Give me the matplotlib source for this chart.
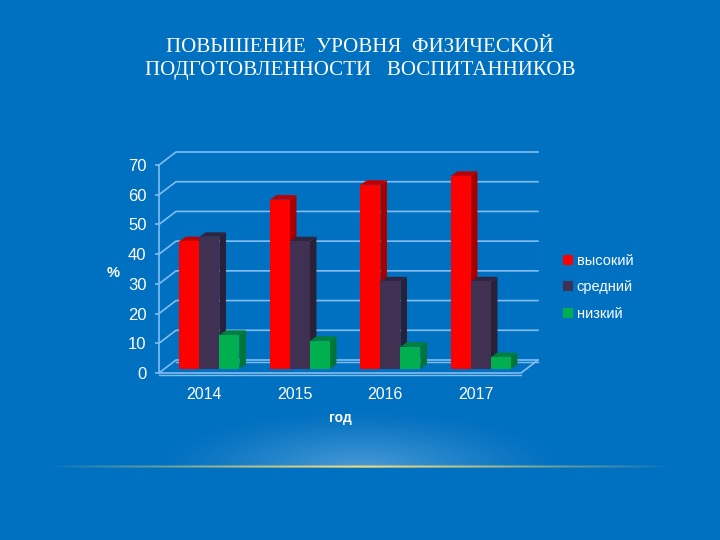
import numpy as np
import matplotlib
matplotlib.use("Agg")
import matplotlib.pyplot as plt
from matplotlib.patches import Polygon

years = ["2014", "2015", "2016", "2017"]
high = [43, 57, 62, 65]
mid = [44.5, 43, 29.5, 29.5]
low = [11.5, 9.5, 7.5, 4]
series_names = ["высокий", "средний", "низкий"]
y_ticks = [0, 10, 20, 30, 40, 50, 60, 70]

BG = "#0070C0"
GRID = "#82BDF2"
FACE = ["#FF0000", "#403152", "#00B050"]
SIDE = ["#A80000", "#2A2038", "#00753A"]
TOP = ["#C00000", "#30253F", "#008040"]

plt.rcParams["font.family"] = ["Liberation Sans", "DejaVu Sans"]

fig = plt.figure(figsize=(7.2, 5.4), dpi=100, facecolor=BG)

##background glow above the gold line
bg = fig.add_axes([0, 0, 1, 1], zorder=0)
bg.axis("off")
xx, yy = np.meshgrid(np.arange(720), np.arange(540))
dist = np.sqrt(((xx - 360) / 205.0) ** 2 + ((yy - 467) / 58.0) ** 2)
glow = np.clip(1 - dist, 0, 1) ** 1.25
glow[yy > 467] = 0
base = np.array([0x00, 0x70, 0xC0]) / 255.0
light = np.array([0x4A, 0x9A, 0xD6]) / 255.0
img = base + (light - base) * glow[..., None]
bg.imshow(img, extent=(0, 720, 540, 0), aspect="auto", interpolation="bilinear")
line_x = np.arange(50, 670)
line_a = np.clip(1 - np.abs(line_x - 360) / 310.0, 0, 1) ** 0.8
line_img = np.zeros((3, len(line_x), 4))
line_img[..., :3] = np.array([0xF2, 0xD8, 0x70]) / 255.0
line_img[0, :, 3] = line_a * 0.5
line_img[1, :, 3] = line_a
line_img[2, :, 3] = line_a * 0.5
bg.imshow(line_img, extent=(50, 670, 468.5, 465.5), aspect="auto", interpolation="nearest")
bg.set_xlim(0, 720)
bg.set_ylim(540, 0)

##main axes: front plane of the 3D box
W, H = 720.0, 540.0
left, right, bottom, top = 159, 521, 373, 165
ax = fig.add_axes([left / W, 1 - bottom / H, (right - left) / W, (bottom - top) / H], zorder=1)
ax.patch.set_alpha(0)
ax.set_xlim(-0.5, 3.5)
ax.set_ylim(0, 70)

px_x = (right - left) / 4.0
px_y = (bottom - top) / 70.0
dx = 17 / px_x      # depth of the box
dy = 13 / px_y
bar_dx = 6.5 / px_x  # depth of one bar
bar_dy = 4.5 / px_y
off_x = 5.2 / px_x   # bars stand inside the box
off_y = 4.0 / px_y
bw = 20 / px_x

for s in ax.spines.values():
    s.set_visible(False)

##walls and floor
for v in y_ticks:
    ax.plot([-0.5, -0.5 + dx, 3.5 + dx], [v, v + dy, v + dy], color=GRID, lw=1.2,
            clip_on=False, zorder=1, solid_joinstyle="miter")
ax.plot([-0.5, -0.5], [0, 70], color=GRID, lw=1.2, clip_on=False, zorder=1)
ax.plot([-0.5, 3.5, 3.5 + dx], [0, 0, dy], color=GRID, lw=1.2, clip_on=False, zorder=1)
ax.plot([-0.5 + dx, 3.5 + dx], [dy - 0.7, dy - 0.7], color=GRID, lw=1.0, clip_on=False, zorder=1)
ax.plot([-0.5, 3.5], [-0.7, -0.7], color=GRID, lw=1.0, clip_on=False, zorder=1)

##bars, front face from ax.bar, side and top from the same values
containers = []
for i, vals in enumerate([high, mid, low]):
    xs = np.arange(len(years)) + off_x + (i - 1) * bw
    bc = ax.bar(xs, vals, width=bw, bottom=off_y, color=FACE[i], zorder=3 + i * 0.1, label=series_names[i])
    containers.append(bc)
    for x, v in zip(xs, vals):
        x1 = x + bw / 2
        x0 = x - bw / 2
        y1 = off_y + v
        ax.add_patch(Polygon([(x1, off_y), (x1 + bar_dx, off_y + bar_dy), (x1 + bar_dx, y1 + bar_dy), (x1, y1)],
                             facecolor=SIDE[i], edgecolor="none", zorder=2.5 + i * 0.1, clip_on=False))
        ax.add_patch(Polygon([(x0, y1), (x0 + bar_dx, y1 + bar_dy), (x1 + bar_dx, y1 + bar_dy), (x1, y1)],
                             facecolor=TOP[i], edgecolor="none", zorder=2.5 + i * 0.1, clip_on=False))

##axes text
ax.set_xticks(range(len(years)))
ax.set_xticklabels(years)
ax.set_yticks(y_ticks)
ax.tick_params(axis="x", length=0, colors="white", labelsize=11.5, pad=10)
ax.tick_params(axis="y", length=3, width=1.2, color=GRID, labelcolor="white", labelsize=12, pad=6)
ax.set_xlabel("год", color="white", fontweight="bold", fontsize=10)
ax.xaxis.set_label_coords((340 - left) / (right - left), -(417 - bottom - 6) / (bottom - top))
ax.set_ylabel("%", color="white", fontweight="bold", fontsize=10.5, rotation=0)
ax.yaxis.set_label_coords((113 - left) / (right - left), (bottom - 280) / (bottom - top))

##legend
leg = ax.legend(handles=[c[0] for c in containers], labels=series_names, frameon=False,
                loc="center left", bbox_to_anchor=(563 / W, 1 - 287.5 / H), bbox_transform=fig.transFigure,
                fontsize=10.5, labelcolor="white", handlelength=0.68, handleheight=0.68,
                handletextpad=0.25, labelspacing=0.84, borderpad=0, borderaxespad=0)

##title
fig.text(360 / W, 1 - 47 / H, "ПОВЫШЕНИЕ  УРОВНЯ  ФИЗИЧЕСКОЙ", color="white", ha="center", va="center",
         fontsize=15.1, family=["Liberation Serif", "DejaVu Serif"], zorder=5)
fig.text(360 / W, 1 - 70 / H, "ПОДГОТОВЛЕННОСТИ   ВОСПИТАННИКОВ", color="white", ha="center", va="center",
         fontsize=15.1, family=["Liberation Serif", "DejaVu Serif"], zorder=5)

fig.savefig("out.png", dpi=100, facecolor=BG)
